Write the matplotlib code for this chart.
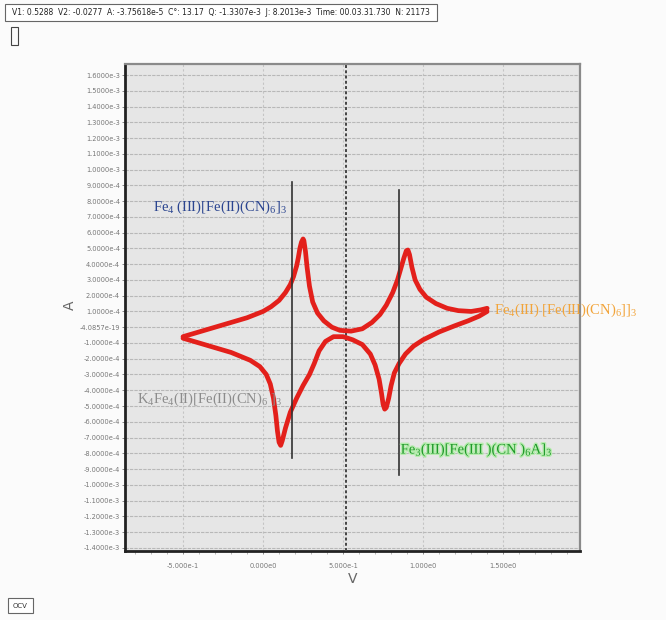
import numpy as np
import matplotlib
matplotlib.use("Agg")
import matplotlib.pyplot as plt
import matplotlib.patheffects as pe
from matplotlib.patches import Rectangle
from matplotlib.ticker import FuncFormatter, MultipleLocator

plt.rcParams["mathtext.default"] = "regular"

# forward (anodic) sweep, current in units of 1e-4 A
anodic_v = [-0.50, -0.40, -0.30, -0.20, -0.10, 0.00, 0.05, 0.10, 0.14, 0.17,
            0.19, 0.21, 0.22, 0.23, 0.24, 0.25, 0.255, 0.265, 0.275, 0.29,
            0.31, 0.34, 0.38, 0.43, 0.48, 0.55, 0.62, 0.68, 0.73, 0.77,
            0.81, 0.84, 0.86, 0.88, 0.895, 0.905, 0.915, 0.93, 0.95, 0.98,
            1.02, 1.08, 1.15, 1.22, 1.30, 1.36, 1.40]
anodic_i = [-0.6, -0.3, 0.0, 0.3, 0.6, 1.0, 1.3, 1.7, 2.2, 2.7,
            3.2, 3.9, 4.4, 5.0, 5.4, 5.6, 5.5, 4.8, 3.8, 2.6,
            1.6, 0.9, 0.4, 0.0, -0.2, -0.25, -0.1, 0.3, 0.8, 1.4,
            2.2, 3.0, 3.7, 4.4, 4.85, 4.9, 4.6, 3.8, 3.0, 2.4,
            1.9, 1.5, 1.2, 1.05, 1.0, 1.1, 1.2]

# reverse (cathodic) sweep
cathodic_v = [1.40, 1.35, 1.28, 1.20, 1.10, 1.00, 0.94, 0.89, 0.85, 0.82,
              0.80, 0.785, 0.77, 0.76, 0.75, 0.74, 0.725, 0.70, 0.67, 0.62,
              0.56, 0.50, 0.44, 0.39, 0.35, 0.32, 0.29, 0.25, 0.21, 0.17,
              0.14, 0.12, 0.11, 0.10, 0.09, 0.08, 0.065, 0.045, 0.02, -0.02,
              -0.08, -0.20, -0.30, -0.40, -0.50]
cathodic_i = [1.0, 0.7, 0.4, 0.1, -0.3, -0.8, -1.2, -1.7, -2.3, -2.9,
              -3.7, -4.5, -5.1, -5.2, -4.9, -4.2, -3.3, -2.4, -1.7, -1.1,
              -0.8, -0.6, -0.6, -0.9, -1.5, -2.3, -3.0, -3.7, -4.5, -5.4,
              -6.4, -7.2, -7.5, -7.3, -6.6, -5.6, -4.5, -3.6, -3.0, -2.5,
              -2.1, -1.6, -1.3, -1.0, -0.7]

# peak marker lines: (V, I_top, I_bottom) in 1e-4 A
marker_lines = [(0.18, 9.2, -8.3), (0.85, 8.7, -9.4)]
cursor_v = 0.52

labels = [
    ("Fe$_4$ (III)[Fe(II)(CN)$_6$]$_3$", -0.69, 7.6, "#2b4590"),
    ("Fe$_4$(III) [Fe(III)(CN)$_6$]]$_3$", 1.44, 1.1, "#f2a43a"),
    ("K$_4$Fe$_4$(II)[Fe(II)(CN)$_6$ ]$_3$", -0.79, -4.6, "#8c8c8c"),
    ("Fe$_3$(III)[Fe(III )(CN )$_6$A]$_3$", 0.86, -7.8, "#1f9a2a"),
]

header = ("V1: 0.5288  V2: -0.0277  A: -3.75618e-5  C\u00b0: 13.17  Q: -1.3307e-3  "
          "J: 8.2013e-3  Time: 00.03.31.730  N: 21173")

fig = plt.figure(figsize=(6.66, 6.20), dpi=100, facecolor="#fbfbfb")
ax = fig.add_axes([125 / 666, 1 - 551 / 620, 455 / 666, 487 / 620])
ax.set_facecolor("#e6e6e6")

scale = 1e-4
ax.plot(anodic_v, np.array(anodic_i) * scale, color="#e3201b", lw=3.4,
        solid_capstyle="round", solid_joinstyle="round", zorder=4)
ax.plot(cathodic_v, np.array(cathodic_i) * scale, color="#e3201b", lw=3.4,
        solid_capstyle="round", solid_joinstyle="round", zorder=4)

for v, top, bot in marker_lines:
    ax.plot([v, v], [top * scale, bot * scale], color="#333333", lw=1.2, zorder=5)

ax.axvline(cursor_v, color="#444444", lw=1.4, ls=(0, (1.5, 1.2)), zorder=3)

ax.set_xlim(-0.8625, 1.98)
ax.set_ylim(-1.42e-3, 1.67e-3)

ax.xaxis.set_major_locator(MultipleLocator(0.5))
ax.xaxis.set_minor_locator(MultipleLocator(0.1))
ax.yaxis.set_major_locator(MultipleLocator(1e-4))


def fmt_y(val, pos):
    if abs(val) < 1e-9:
        return "-4.0857e-19"
    mant, exp = f"{val:.4e}".split("e")
    return f"{mant}e{int(exp)}"


def fmt_x(val, pos):
    if abs(val) < 1e-9:
        return "0.000e0"
    mant, exp = f"{val:.3e}".split("e")
    return f"{mant}e{int(exp)}"


ax.yaxis.set_major_formatter(FuncFormatter(fmt_y))
ax.xaxis.set_major_formatter(FuncFormatter(fmt_x))
ax.tick_params(axis="both", which="major", labelsize=4.8, colors="#777777",
               length=2, width=0.6)
ax.tick_params(axis="y", pad=1.5)
ax.tick_params(axis="x", which="minor", length=2, width=0.5, colors="#999999")
ax.tick_params(axis="x", pad=7)

ax.grid(True, axis="y", color="#b8b8b8", lw=0.8, ls=(0, (3, 1)))
ax.grid(True, axis="x", color="#c4c4c4", lw=0.8, ls=(0, (2, 2)))
ax.set_axisbelow(True)

for side in ("left", "bottom"):
    ax.spines[side].set_color("#222222")
    ax.spines[side].set_linewidth(2)
for side in ("top", "right"):
    ax.spines[side].set_color("#8a8a8a")
    ax.spines[side].set_linewidth(1.6)

ax.set_xlabel("V", fontsize=10, color="#666666", labelpad=2)
ax.set_ylabel("A", fontsize=10, color="#666666")
ax.yaxis.set_label_coords(-0.105, 0.505)

for text, v, cur, color in labels:
    t = ax.text(v, cur * scale, text, color=color, fontsize=10.5,
                family="Liberation Serif", va="center", ha="left",
                clip_on=False, zorder=6)
    if color == "#1f9a2a":
        t.set_path_effects([pe.withStroke(linewidth=2, foreground="#b8ecb0")])

# status bar above the plot
fig.patches.append(Rectangle((5 / 666, 1 - 21 / 620), 432 / 666, 17 / 620,
                             transform=fig.transFigure, facecolor="white",
                             edgecolor="#666666", lw=0.8))
fig.text(12 / 666, 1 - 12.5 / 620, header, fontsize=5.5, color="#222222",
         va="center", ha="left")
fig.patches.append(Rectangle((11 / 666, 1 - 45 / 620), 7 / 666, 18 / 620,
                             transform=fig.transFigure, facecolor="none",
                             edgecolor="#444444", lw=0.8))

# OCV button in the corner
fig.patches.append(Rectangle((8 / 666, 1 - 613 / 620), 25 / 666, 15 / 620,
                             transform=fig.transFigure, facecolor="white",
                             edgecolor="#666666", lw=0.8))
fig.text(20.5 / 666, 1 - 605.5 / 620, "OCV", fontsize=5, color="#333333",
         va="center", ha="center")

fig.savefig("out.png", dpi=100, facecolor=fig.get_facecolor())
